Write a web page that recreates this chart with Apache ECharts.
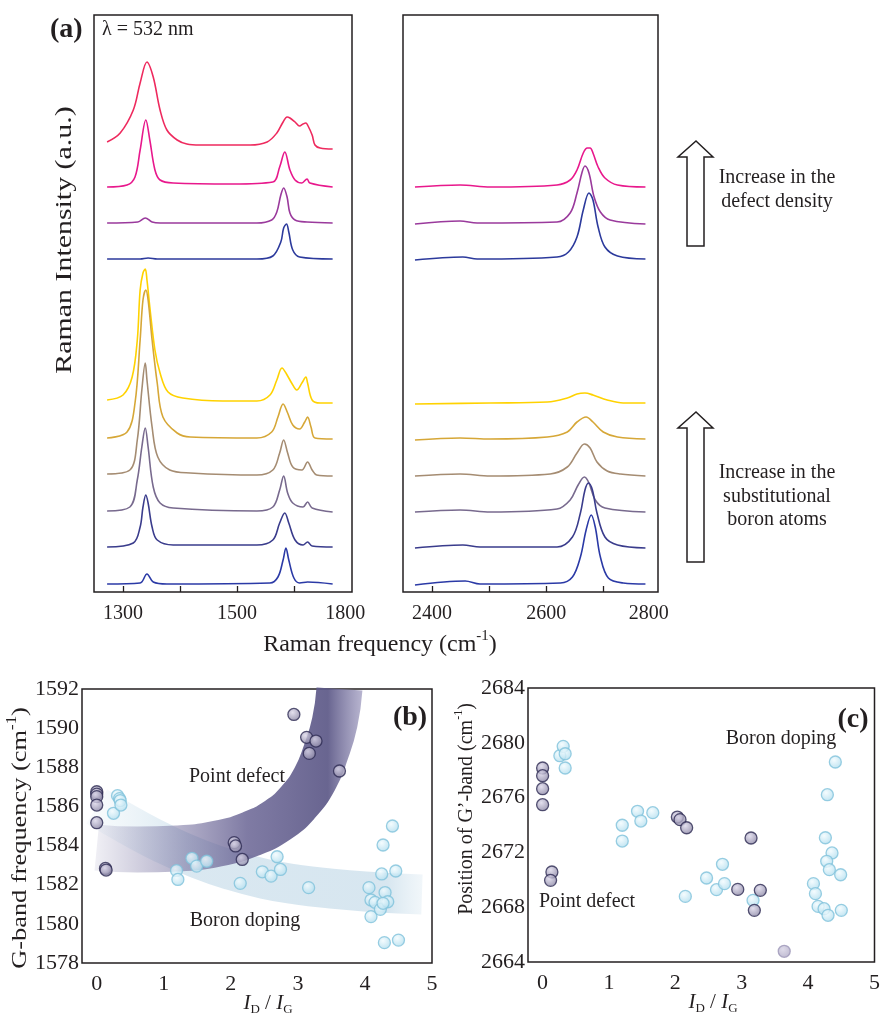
<!DOCTYPE html>
<html>
<head>
<meta charset="utf-8">
<script src="https://cdn.jsdelivr.net/npm/echarts@6/dist/echarts.min.js"></script>
<style>
html,body{margin:0;padding:0;background:#fff}
#echartbox{width:883px;height:1014px}
</style>
</head>
<body>
<div id="echartbox"></div>
<script>
// 基于准备好的dom，初始化echarts实例
var myChart = echarts.init(document.getElementById('echartbox'));

var FONT = '"Liberation Serif", "Times New Roman", serif';
var INK = '#231f20';

// ---------- (a) spectra, D/G region : [frequency, intensity a.u. incl. offset]
var dgDefectHigh = [[1272,45.0],[1295,45.9],[1318,48.2],[1330,50.9],[1342,53.0],[1353,51.5],[1365,48.2],[1377,46.2],[1395,45.2],[1412,44.8],[1435,44.7],[1523,44.7],[1553,45.0],[1570,45.9],[1581,47.0],[1588,47.5],[1593,47.4],[1602,47.0],[1610,46.6],[1616,46.8],[1621,46.9],[1624,46.7],[1632,45.7],[1637,44.7],[1646,44.4],[1668,44.3]];
var dgDefectMid = [[1272,40.5],[1307,40.7],[1321,41.5],[1330,44.2],[1340,47.2],[1347,45.2],[1356,42.2],[1365,41.2],[1388,40.9],[1493,40.8],[1563,41.0],[1575,42.5],[1584,44.0],[1593,42.2],[1602,41.2],[1614,40.9],[1623,41.3],[1628,40.9],[1668,40.5]];
var dgDefectLow = [[1272,36.9],[1326,37.0],[1339,37.4],[1351,37.0],[1365,36.9],[1535,36.9],[1561,37.2],[1570,38.0],[1577,39.7],[1582,40.4],[1588,39.5],[1593,37.9],[1602,37.2],[1623,37.0],[1668,36.9]];
var dgPristineA = [[1272,33.3],[1330,33.3],[1344,33.4],[1360,33.3],[1535,33.3],[1563,33.6],[1577,35.0],[1582,36.4],[1587,36.8],[1591,36.0],[1598,34.2],[1610,33.5],[1668,33.3]];
var dgBoron5 = [[1272,19.2],[1300,19.7],[1316,21.5],[1325,25.2],[1330,30.2],[1335,31.9],[1339,32.3],[1342,31.2],[1347,28.5],[1356,24.2],[1365,21.9],[1379,20.0],[1405,19.4],[1475,19.1],[1535,19.1],[1558,19.7],[1570,21.2],[1579,22.4],[1588,21.7],[1596,20.9],[1605,20.2],[1614,20.9],[1621,21.5],[1624,20.9],[1632,19.2],[1646,18.9],[1668,18.9]];
var dgBoron4 = [[1272,15.4],[1307,16.0],[1321,18.9],[1330,25.2],[1335,29.2],[1340,30.2],[1344,29.2],[1351,25.2],[1360,20.9],[1370,17.5],[1395,15.9],[1418,15.5],[1535,15.4],[1561,16.0],[1572,17.5],[1581,18.8],[1589,17.9],[1598,16.7],[1610,16.3],[1619,17.0],[1624,17.5],[1630,16.5],[1637,15.4],[1668,15.3]];
var dgBoron3 = [[1272,11.8],[1312,12.2],[1325,15.2],[1333,20.2],[1339,22.9],[1342,21.2],[1351,16.5],[1361,13.5],[1382,12.2],[1418,11.9],[1535,11.7],[1563,12.2],[1575,13.9],[1582,15.2],[1589,13.9],[1598,12.5],[1614,12.2],[1624,13.0],[1632,12.2],[1640,11.7],[1668,11.6]];
var dgBoron2 = [[1272,8.1],[1312,8.5],[1325,11.2],[1333,14.5],[1339,16.4],[1344,14.5],[1353,10.5],[1365,8.9],[1388,8.4],[1535,8.1],[1563,8.5],[1575,10.2],[1582,11.6],[1589,9.9],[1598,8.9],[1616,8.5],[1624,9.0],[1632,8.4],[1668,8.0]];
var dgBoron1 = [[1272,4.5],[1318,4.9],[1330,6.5],[1335,8.5],[1340,9.7],[1344,8.9],[1351,6.5],[1360,5.2],[1388,4.7],[1535,4.7],[1563,5.2],[1575,6.9],[1584,7.9],[1591,6.9],[1602,5.2],[1616,4.7],[1624,5.0],[1632,4.6],[1668,4.5]];
var dgPristineB = [[1272,0.8],[1330,0.9],[1342,1.8],[1353,1.0],[1377,0.8],[1558,0.9],[1572,1.5],[1581,3.2],[1586,4.4],[1591,3.2],[1600,1.4],[1610,0.9],[1624,1.0],[1668,0.8]];

// ---------- (a) spectra, G' region
var g2DefectMid = [[2370,40.5],[2449,40.7],[2502,40.5],[2619,40.7],[2642,41.2],[2654,42.2],[2665,43.9],[2672,44.4],[2677,44.4],[2682,43.9],[2691,42.5],[2703,41.4],[2725,40.7],[2774,40.5]];
var g2DefectLow = [[2370,36.8],[2449,37.1],[2479,36.9],[2619,37.0],[2642,37.9],[2654,39.9],[2663,42.0],[2668,42.6],[2675,41.9],[2684,39.5],[2695,38.0],[2712,37.2],[2774,36.8]];
var g2PristineA = [[2370,33.2],[2454,33.5],[2479,33.3],[2619,33.5],[2639,34.0],[2654,35.5],[2665,38.2],[2675,39.9],[2682,39.2],[2691,36.5],[2703,34.5],[2725,33.6],[2774,33.3]];
var g2Boron5 = [[2370,18.8],[2502,18.9],[2602,19.0],[2637,19.4],[2654,19.8],[2668,19.9],[2682,19.7],[2707,19.2],[2735,18.9],[2774,18.9]];
var g2Boron4 = [[2370,15.2],[2449,15.4],[2502,15.3],[2602,15.5],[2637,16.0],[2654,17.0],[2670,17.5],[2682,17.0],[2700,16.0],[2725,15.5],[2774,15.3]];
var g2Boron3 = [[2370,11.6],[2449,11.8],[2502,11.6],[2607,11.8],[2637,12.5],[2654,13.9],[2667,14.8],[2677,14.4],[2689,13.0],[2707,12.1],[2730,11.8],[2774,11.6]];
var g2Boron2 = [[2370,8.0],[2449,8.2],[2502,8.0],[2619,8.3],[2642,9.2],[2656,10.7],[2667,11.5],[2675,10.9],[2686,9.2],[2703,8.4],[2774,8.0]];
var g2Boron1 = [[2370,4.4],[2454,4.7],[2484,4.5],[2619,4.5],[2646,5.5],[2660,7.9],[2668,10.2],[2674,10.9],[2681,10.2],[2689,7.9],[2703,5.5],[2725,4.7],[2774,4.4]];
var g2PristineB = [[2370,0.7],[2458,1.1],[2484,0.8],[2625,0.9],[2646,1.5],[2660,3.5],[2670,6.2],[2679,7.7],[2686,6.5],[2695,3.5],[2709,1.4],[2735,0.9],[2774,0.8]];

// tick labels of (a) (the source prints "1800" at the right frame)
var dgTickValues = [1300, 1400, 1500, 1600];
var dgLabelValues = [1300, 1500, 1690];
var dgTickLabels = ['1300', '1500', '1800'];
var g2TickValues = [2400, 2500, 2600, 2700];
var g2LabelValues = [2400, 2600, 2780];
var g2TickLabels = ['2400', '2600', '2800'];

// ---------- (b) G-band frequency vs ID/IG
var bDefect = [[0,1586.75],[0,1586.63],[0,1586.5],[0,1586.07],[0,1585.17],[0.13,1582.83],[0.14,1582.75],[2.05,1584.15],[2.07,1583.98],[2.17,1583.29],[2.94,1590.7],[3.13,1589.53],[3.17,1588.71],[3.27,1589.34],[3.62,1587.81]];
var bBoron = [[0.25,1585.65],[0.31,1586.55],[0.34,1586.4],[0.35,1586.3],[0.36,1586.07],[1.19,1582.72],[1.21,1582.27],[1.42,1583.35],[1.49,1582.95],[1.64,1583.2],[2.14,1582.07],[2.47,1582.66],[2.6,1582.44],[2.69,1583.43],[2.74,1582.78],[3.16,1581.85],[4.06,1581.85],[4.09,1581.22],[4.15,1581.1],[4.09,1580.37],[4.23,1580.74],[4.25,1582.55],[4.27,1584.03],[4.3,1581.6],[4.34,1581.13],[4.27,1581.05],[4.41,1585.0],[4.46,1582.7],[4.29,1579.04],[4.5,1579.17]];
// guide bands (centre lines)
var bDefectBand = [[0.0,1583.9],[0.6,1583.8],[1.2,1583.85],[1.8,1584.1],[2.3,1584.6],[2.7,1585.3],[3.0,1586.2],[3.25,1587.4],[3.42,1588.8],[3.55,1590.3],[3.62,1592.0]];
var bBoronBand = [[0.0,1586.0],[0.5,1585.0],[1.0,1584.1],[1.5,1583.35],[2.0,1582.75],[2.5,1582.3],[3.0,1582.0],[3.5,1581.8],[4.0,1581.65],[4.5,1581.55],[4.85,1581.5]];

// ---------- (c) G'-band position vs ID/IG
var cDefect = [[0,2678.16],[0,2677.6],[0,2676.65],[0,2675.48],[0.14,2670.57],[0.12,2669.96],[2.03,2674.58],[2.07,2674.39],[2.17,2673.8],[3.14,2673.05],[2.94,2669.3],[3.28,2669.23],[3.19,2667.77]];
var cOutlier = [[3.64,2664.78]];
var cBoron = [[0.26,2679.06],[0.31,2679.74],[0.34,2679.2],[0.34,2678.16],[1.2,2673.98],[1.2,2672.83],[1.43,2675.0],[1.48,2674.29],[1.66,2674.9],[2.15,2668.79],[2.47,2670.13],[2.62,2669.28],[2.71,2671.13],[2.74,2669.72],[3.17,2668.5],[4.08,2669.72],[4.11,2668.99],[4.15,2668.06],[4.24,2667.89],[4.3,2667.41],[4.26,2673.07],[4.29,2676.21],[4.36,2671.96],[4.28,2671.35],[4.32,2670.74],[4.41,2678.6],[4.49,2670.37],[4.5,2667.77]];
var ratioTicks = [0, 1, 2, 3, 4, 5];

var leftSpectra = [dgDefectHigh, dgDefectMid, dgDefectLow, dgPristineA, dgBoron5, dgBoron4, dgBoron3, dgBoron2, dgBoron1, dgPristineB];
var leftColors = ['#ee2a5e', '#e8188c', '#9a3a9c', '#2c3a9c', '#ffd200', '#d6a737', '#a58c72', '#786a8e', '#3a3c8c', '#2b3aa6'];
var rightSpectra = [g2DefectMid, g2DefectLow, g2PristineA, g2Boron5, g2Boron4, g2Boron3, g2Boron2, g2Boron1, g2PristineB];
var rightColors = ['#e8188c', '#9a3a9c', '#2c3a9c', '#ffd200', '#d6a737', '#a58c72', '#786a8e', '#3a3c8c', '#2b3aa6'];

var series = [];
leftSpectra.forEach(function (d, i) {
    series.push({
        type: 'line', xAxisIndex: 0, yAxisIndex: 0, data: d,
        smooth: 0.35, showSymbol: false, silent: true,
        lineStyle: { color: leftColors[i], width: 1.6 }
    });
});
rightSpectra.forEach(function (d, i) {
    series.push({
        type: 'line', xAxisIndex: 1, yAxisIndex: 1, data: d,
        smooth: 0.35, showSymbol: false, silent: true,
        lineStyle: { color: rightColors[i], width: 1.6 }
    });
});

// bands behind the points
series.push({
    type: 'line', xAxisIndex: 2, yAxisIndex: 2, data: bBoronBand,
    smooth: 0.5, showSymbol: false, silent: true, z: 1,
    lineStyle: {
        width: 40, cap: 'butt',
        color: new echarts.graphic.LinearGradient(0, 0, 1, 0, [
            { offset: 0, color: 'rgba(222,236,244,0.1)' },
            { offset: 0.3, color: 'rgba(205,224,236,0.75)' },
            { offset: 0.85, color: 'rgba(205,224,236,0.8)' },
            { offset: 1, color: 'rgba(230,240,246,0.2)' }
        ])
    }
});
series.push({
    type: 'line', xAxisIndex: 2, yAxisIndex: 2, data: bDefectBand,
    smooth: 0.5, showSymbol: false, silent: true, z: 2,
    lineStyle: {
        width: 46, cap: 'butt',
        color: new echarts.graphic.LinearGradient(0, 0, 1, 0, [
            { offset: 0, color: 'rgba(130,125,170,0)' },
            { offset: 0.25, color: 'rgba(125,120,165,0.4)' },
            { offset: 0.6, color: 'rgba(105,100,148,0.85)' },
            { offset: 0.88, color: 'rgba(92,88,135,0.92)' },
            { offset: 1, color: 'rgba(160,156,192,0.75)' }
        ])
    }
});

function dotStyle(inner, outer, border) {
    return {
        color: new echarts.graphic.RadialGradient(0.4, 0.35, 0.75, [
            { offset: 0, color: inner },
            { offset: 1, color: outer }
        ]),
        borderColor: border,
        borderWidth: 1.3
    };
}
var darkDot = dotStyle('#dcd8ea', '#7c7798', '#2d2b52');
var lightDot = dotStyle('#f2fbfe', '#a7d9ec', '#7fc2db');

series.push({ type: 'scatter', xAxisIndex: 2, yAxisIndex: 2, data: bBoron, symbolSize: 12, z: 5, itemStyle: lightDot });
series.push({ type: 'scatter', xAxisIndex: 2, yAxisIndex: 2, data: bDefect, symbolSize: 12, z: 6, itemStyle: darkDot });
series.push({ type: 'scatter', xAxisIndex: 3, yAxisIndex: 3, data: cBoron, symbolSize: 12, z: 5, itemStyle: lightDot });
series.push({ type: 'scatter', xAxisIndex: 3, yAxisIndex: 3, data: cDefect, symbolSize: 12, z: 6, itemStyle: darkDot });
series.push({ type: 'scatter', xAxisIndex: 3, yAxisIndex: 3, data: cOutlier, symbolSize: 12, z: 6, itemStyle: dotStyle('#d6d2e4', '#aaa4c2', '#9c96b8') });

var gridBox = { show: true, borderColor: INK, borderWidth: 1.5, backgroundColor: 'transparent' };

function specAxis(grid, min, max, ticks, labelVals, labelTxt) {
    return {
        type: 'value', gridIndex: grid, min: min, max: max,
        axisLine: { show: false },
        splitLine: { show: false },
        axisTick: { show: true, inside: true, length: 6, customValues: ticks, lineStyle: { color: INK, width: 1.3 } },
        axisLabel: {
            customValues: labelVals, margin: 12, fontSize: 20, fontFamily: FONT, color: INK,
            formatter: function (v) { return labelTxt[labelVals.indexOf(v)]; }
        }
    };
}
function ratioAxis(grid) {
    return {
        type: 'value', gridIndex: grid, min: -0.22, max: 5,
        axisLine: { show: false }, splitLine: { show: false }, axisTick: { show: false },
        axisLabel: { customValues: ratioTicks, margin: 10, fontSize: 22, fontFamily: FONT, color: INK }
    };
}
function freqAxis(grid, min, max, step) {
    return {
        type: 'value', gridIndex: grid, min: min, max: max, interval: step,
        axisLine: { show: false }, splitLine: { show: false }, axisTick: { show: false },
        axisLabel: {
            margin: 3, fontSize: 22, fontFamily: FONT, color: INK,
            formatter: function (v) { return String(v); }
        }
    };
}

function txt(x, y, s, size, opts) {
    opts = opts || {};
    return {
        type: 'text', x: x, y: y, rotation: opts.rot || 0, scaleX: opts.sx || 1, z: 50,
        style: {
            text: s, fill: INK, fontFamily: FONT, fontSize: size,
            fontWeight: opts.bold ? 'bold' : 'normal',
            align: opts.align || 'center', textAlign: opts.align || 'center',
            verticalAlign: 'middle', textVerticalAlign: 'middle',
            rich: opts.rich
        }
    };
}
function arrow(tipY, baseY, bottomY) {
    return {
        type: 'polygon', z: 50,
        shape: { points: [[696, tipY], [713, baseY], [704, baseY], [704, bottomY], [687, bottomY], [687, baseY], [678, baseY]] },
        style: { fill: '#fff', stroke: INK, lineWidth: 1.5 }
    };
}
function titleRich(size) {
    return {
        a: { fontFamily: FONT, fontSize: size, color: INK, lineHeight: size + 8, verticalAlign: 'middle' },
        sup: { fontFamily: FONT, fontSize: Math.round(size * 0.62), color: INK, lineHeight: Math.round(size * 0.62), verticalAlign: 'top' }
    };
}
var ratioRich = {
    i: { fontFamily: FONT, fontSize: 21, fontStyle: 'italic', color: INK, lineHeight: 26 },
    n: { fontFamily: FONT, fontSize: 21, color: INK, lineHeight: 26 },
    s: { fontFamily: FONT, fontSize: 13, color: INK, lineHeight: 13, verticalAlign: 'bottom' }
};
var ratioName = '{i|I}{s|D}{n| / }{i|I}{s|G}';

var option = {
    animation: false,
    backgroundColor: '#fff',
    textStyle: { fontFamily: FONT },
    grid: [
        Object.assign({ left: 94, top: 15, width: 258, height: 577 }, gridBox),
        Object.assign({ left: 403, top: 15, width: 255, height: 577 }, gridBox),
        Object.assign({ left: 82, top: 689, width: 350, height: 274 }, gridBox),
        Object.assign({ left: 528, top: 688, width: 349, height: 274 }, gridBox)
    ],
    xAxis: [
        specAxis(0, 1249, 1702, dgTickValues, dgLabelValues, dgTickLabels),
        specAxis(1, 2349, 2796, g2TickValues, g2LabelValues, g2TickLabels),
        ratioAxis(2),
        ratioAxis(3)
    ],
    yAxis: [
        { type: 'value', gridIndex: 0, min: 0, max: 57.7, show: false },
        { type: 'value', gridIndex: 1, min: 0, max: 57.7, show: false },
        freqAxis(2, 1578, 1592, 2),
        freqAxis(3, 2664, 2684, 4)
    ],
    graphic: [
        txt(50, 30, '(a)', 28, { bold: true, align: 'left' }),
        txt(102, 30, 'λ = 532 nm', 20, { align: 'left' }),
        txt(65, 240, 'Raman Intensity (a.u.)', 23, { rot: Math.PI / 2, sx: 1.3 }),
        txt(380, 645, '{a|Raman frequency (cm}{sup|-1}{a|)}', 24, { rich: titleRich(24) }),
        arrow(141, 157, 246),
        arrow(412, 428, 562),
        txt(777, 178, 'Increase in the', 20),
        txt(777, 202, 'defect density', 20),
        txt(777, 473, 'Increase in the', 20),
        txt(777, 497, 'substitutional', 20),
        txt(777, 520, 'boron atoms', 20),
        txt(410, 718, '(b)', 28, { bold: true }),
        txt(237, 777, 'Point defect', 20),
        txt(245, 921, 'Boron doping', 20),
        txt(20, 838, '{a|G-band frequency (cm}{sup|-1}{a|)}', 22, { rot: Math.PI / 2, sx: 1.2, rich: titleRich(22) }),
        txt(268, 1003, ratioName, 21, { rich: ratioRich }),
        txt(853, 720, '(c)', 28, { bold: true }),
        txt(781, 739, 'Boron doping', 20),
        txt(587, 902, 'Point defect', 20),
        txt(467, 809, '{a|Position of G\u2019-band (cm}{sup|-1}{a|)}', 20, { rot: Math.PI / 2, rich: titleRich(20) }),
        txt(713, 1002, ratioName, 21, { rich: ratioRich })
    ],
    series: series
};

// 使用刚指定的配置项和数据显示图表。
myChart.setOption(option);
</script>
</body>
</html>
